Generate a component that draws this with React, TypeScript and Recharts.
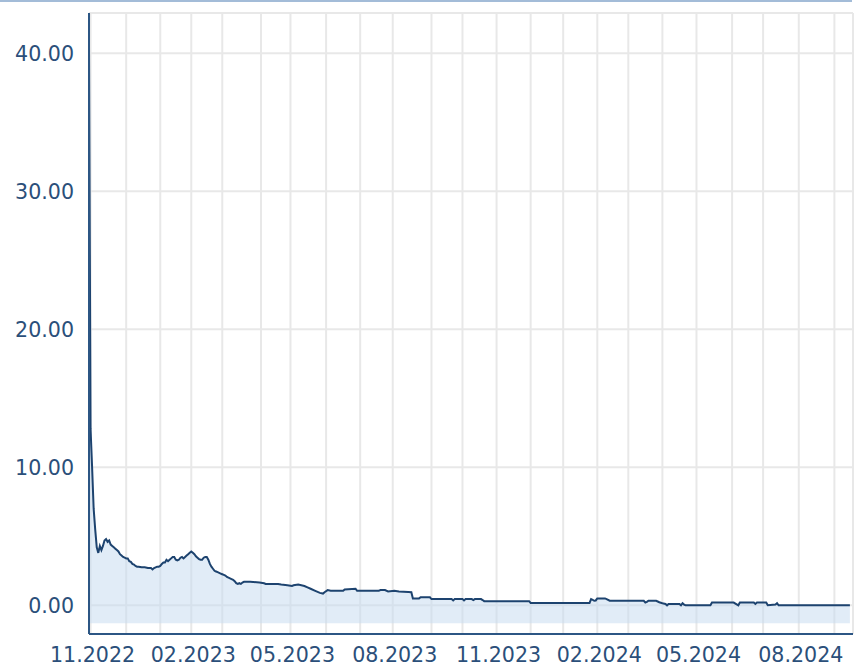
import React from 'react';
import { ComposedChart, Area, XAxis, YAxis, CartesianGrid } from 'recharts';

// Month starts on a trading-day index axis
const monthLabels = [
  '11.2022', '12.2022', '01.2023', '02.2023', '03.2023', '04.2023', '05.2023', '06.2023',
  '07.2023', '08.2023', '09.2023', '10.2023', '11.2023', '12.2023', '01.2024', '02.2024',
  '03.2024', '04.2024', '05.2024', '06.2024', '07.2024', '08.2024', '09.2024',
];
const monthStartDay = [
  1, 24, 46, 66, 86, 111, 130, 153, 175, 196, 221, 241, 263, 285, 306, 328, 348, 370, 392, 415,
  435, 458, 481,
];
const labelledMonths = ['11.2022', '02.2023', '05.2023', '08.2023', '11.2023', '02.2024', '05.2024', '08.2024'];
const yTicks = [0, 10, 20, 30, 40];

const priceDay = [
  0, 1, 2, 3, 4, 5, 6, 7, 8, 9, 10, 11, 12, 13, 14, 15, 16, 17, 18, 19, 20, 21, 22, 23, 24, 25, 26,
  27, 28, 29, 30, 31, 32, 34, 36, 38, 40, 41, 42, 43, 44, 45, 46, 47, 48, 49, 50, 51, 52, 53, 54,
  55, 56, 57, 58, 59, 60, 61, 62, 63, 64, 65, 66, 67, 68, 69, 70, 71, 72, 73, 74, 75, 76, 77, 78,
  79, 80, 81, 82, 83, 84, 85, 86, 87, 88, 89, 90, 91, 92, 93, 94, 95, 96, 97, 98, 99, 100, 104,
  110, 113, 114, 122, 124, 128, 131, 132, 135, 137, 139, 141, 143, 146, 149, 151, 152, 154, 156,
  164, 165, 172, 173, 187, 188, 191, 193, 197, 200, 206, 208, 209, 213, 214, 220, 221, 234, 235,
  236, 241, 242, 243, 247, 248, 249, 253, 254, 255, 284, 285, 323, 324, 325, 326, 327, 328, 333,
  334, 336, 358, 359, 360, 361, 366, 368, 370, 372, 373, 374, 381, 382, 383, 384, 385, 401, 402,
  416, 419, 420, 429, 430, 431, 437, 438, 443, 444, 445, 491,
];
const priceValue = [
  40.6, 12.8, 10.0, 7.0, 5.5, 4.2, 3.8, 4.3, 4.0, 4.3, 4.7, 4.8, 4.6, 4.7, 4.4, 4.3, 4.2, 4.1,
  4.0, 3.9, 3.7, 3.6, 3.5, 3.45, 3.4, 3.4, 3.2, 3.15, 3.0, 2.95, 2.85, 2.8, 2.8, 2.75, 2.75, 2.7,
  2.7, 2.6, 2.7, 2.75, 2.8, 2.8, 2.85, 3.0, 3.1, 3.1, 3.3, 3.2, 3.3, 3.4, 3.5, 3.5, 3.3, 3.25,
  3.3, 3.45, 3.5, 3.4, 3.5, 3.6, 3.7, 3.8, 3.9, 3.8, 3.7, 3.55, 3.45, 3.35, 3.3, 3.3, 3.45, 3.5,
  3.5, 3.3, 3.0, 2.8, 2.65, 2.5, 2.45, 2.4, 2.35, 2.3, 2.25, 2.2, 2.15, 2.05, 2.0, 1.95, 1.9,
  1.85, 1.75, 1.6, 1.55, 1.6, 1.55, 1.65, 1.7, 1.7, 1.65, 1.6, 1.55, 1.55, 1.5, 1.45, 1.4, 1.45,
  1.5, 1.45, 1.4, 1.3, 1.2, 1.05, 0.9, 0.85, 0.95, 1.1, 1.05, 1.05, 1.15, 1.2, 1.05, 1.05, 1.1,
  1.1, 1.0, 1.05, 1.0, 0.97, 0.95, 0.5, 0.5, 0.58, 0.58, 0.45, 0.45, 0.35, 0.45, 0.45, 0.35,
  0.45, 0.45, 0.38, 0.45, 0.45, 0.38, 0.3, 0.3, 0.17, 0.17, 0.45, 0.4, 0.33, 0.35, 0.5, 0.5,
  0.45, 0.33, 0.33, 0.2, 0.25, 0.33, 0.33, 0.22, 0.15, 0.1, 0.0, 0.1, 0.1, 0.0, 0.15, 0.05, 0.0,
  0.0, 0.2, 0.2, 0.0, 0.2, 0.2, 0.1, 0.2, 0.2, 0.0, 0.05, 0.15, 0.0, 0.0,
];

const data = priceDay.map((d, i) => ({ d, v: priceValue[i] }));

const FONT = 'DejaVu Sans, Verdana, sans-serif';
const TEXT = '#2b4f7a';
const AXIS = '#2c5684';

const xLabel = (v: number) => {
  const i = monthStartDay.indexOf(v);
  const lab = i >= 0 ? monthLabels[i] : '';
  return labelledMonths.includes(lab) ? lab : '';
};

export default function App() {
  return (
    <div style={{ position: 'absolute', left: 0, top: 0, width: 856, height: 666, background: '#fff' }}>
      <div style={{ position: 'absolute', left: 0, top: 0, width: 852, height: 2, background: '#a3bcd8' }} />
      <ComposedChart
        width={856}
        height={666}
        data={data}
        margin={{ top: 13, right: 3, left: 0, bottom: 0 }}
      >
        <CartesianGrid stroke="#e8e8e8" strokeWidth={2} />
        <Area
          type="linear"
          dataKey="v"
          baseValue={-1.3}
          stroke="#1d436f"
          strokeWidth={2}
          fill="#c3daf0"
          fillOpacity={0.5}
          isAnimationActive={false}
          dot={false}
          activeDot={false}
        />
        <XAxis
          type="number"
          dataKey="d"
          domain={[0, 493]}
          ticks={monthStartDay}
          interval={0}
          tickFormatter={xLabel}
          height={32}
          tickLine={false}
          tickSize={0}
          tickMargin={13}
          axisLine={{ stroke: AXIS, strokeWidth: 2 }}
          tick={{ fill: TEXT, fontSize: 20.6, fontFamily: FONT, dx: 2 }}
        />
        <YAxis
          type="number"
          domain={[-2.08, 42.92]}
          ticks={yTicks}
          interval={0}
          tickFormatter={(v: number) => v.toFixed(2)}
          width={89}
          tickLine={false}
          tickSize={0}
          tickMargin={15}
          axisLine={{ stroke: AXIS, strokeWidth: 2 }}
          tick={{ fill: TEXT, fontSize: 20.6, fontFamily: FONT }}
        />
      </ComposedChart>
    </div>
  );
}
